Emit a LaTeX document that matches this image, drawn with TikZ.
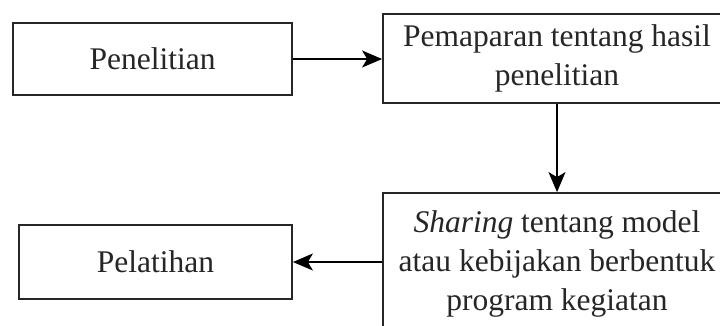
\documentclass[tikz,border=0pt]{standalone}
\usepackage{fontspec}
\setmainfont{Liberation Serif}
\usetikzlibrary{arrows.meta}
\begin{document}
\begin{tikzpicture}[x=1pt,y=-1pt,
  boxline/.style={draw=black!85,line width=1.8pt,inner sep=0pt},
  txt/.style={align=center,inner sep=0pt,font=\fontsize{31.5}{39}\selectfont,text=black!85},
  box/.style={boxline,txt},
  conn/.style={line width=1.6pt,-{Stealth[length=20pt,width=17pt,inset=5pt]}}]
\useasboundingbox (0,0) rectangle (720,325);
\clip (0,0) rectangle (720,325);
\fill[white] (0,0) rectangle (720,325);
\node[box,minimum width=279pt,minimum height=72pt] (pen) at (152.5,59) {Penelitian};
\node[box,minimum width=348pt,minimum height=89pt] (pem) at (557,58.5) {Pemaparan tentang hasil\\penelitian};
\node[boxline,minimum width=348pt,minimum height=152pt] (sha) at (557,269) {};
\node[txt] (shatxt) at (557,264) {\textit{Sharing} tentang model\\atau kebijakan berbentuk\\program kegiatan};
\node[box,minimum width=273pt,minimum height=74pt] (pel) at (155.5,262) {Pelatihan};
\draw[conn] (pen.east) -- (pem.west |- pen.east);
\draw[conn] (pem.south) -- (sha.north);
\draw[conn] (sha.west |- pel.east) -- (pel.east);
\end{tikzpicture}
\end{document}
